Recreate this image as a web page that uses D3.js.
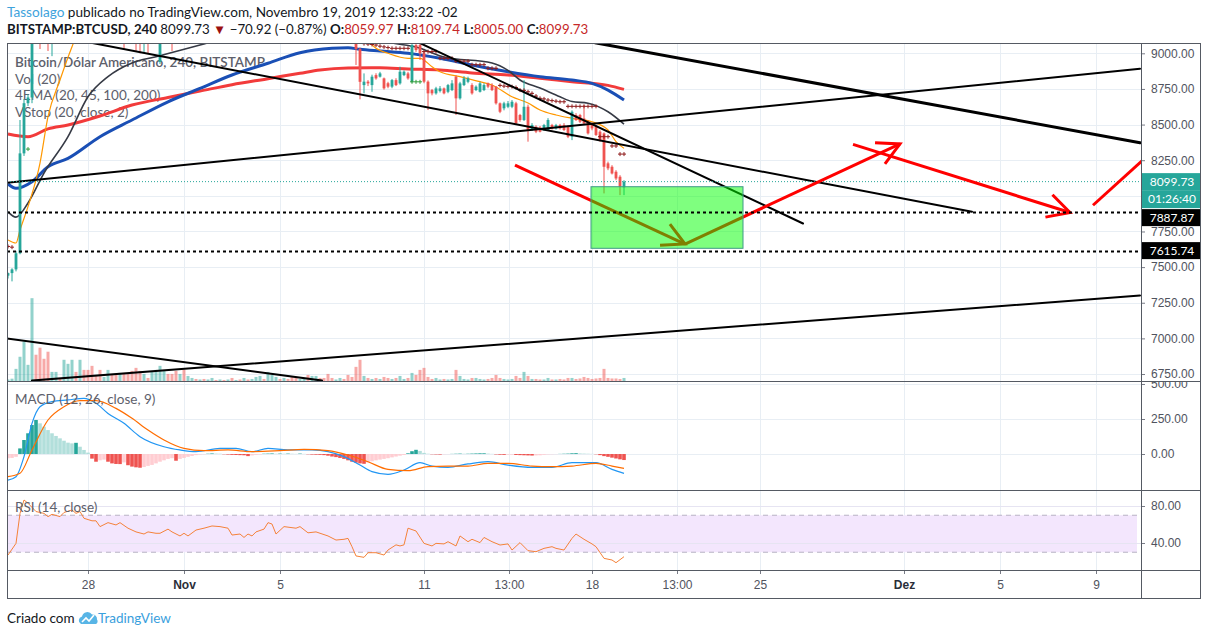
<!DOCTYPE html>
<html>
<head>
<meta charset="utf-8">
<script src="https://cdn.jsdelivr.net/npm/d3@7/dist/d3.min.js"></script>
<style>
  body { margin: 0; background: #fff; }
  svg { font-family: Lato, 'Liberation Sans', sans-serif; }
</style>
</head>
<body>
<svg id="chart" width="1209" height="635"></svg>
<script>
// ---- values ----
// 4h bars (times in the chart's -02 clock), first bar Oct 24 16:00
const firstBar = Date.UTC(2019, 9, 24, 16);

// [open, high, low, close]
const candles = [
  [7440,7462,7420,7458],[7458,7492,7400,7484],[7484,7612,7470,7597],[7597,8532,7590,8298],
  [8298,8680,8280,8650],[8650,8712,8630,8690],[8690,10350,8650,9880],[9880,10100,9500,9620],
  [9620,9700,9030,9260],[9260,9420,9100,9180],[9180,9300,9016,9100],[9100,9350,8980,9310],
  [9310,9520,9260,9460],[9460,9500,9330,9380],[9380,9620,9320,9560],[9560,9760,9500,9700],
  [9700,9900,9640,9840],[9840,9880,9650,9720],[9720,9940,9660,9860],[9860,9900,9580,9620],
  [9620,9680,9420,9460],[9460,9500,9250,9300],[9300,9360,9220,9260],[9260,9300,9150,9200],
  [9200,9300,9160,9280],[9280,9380,9240,9350],[9350,9380,9280,9300],[9300,9330,9220,9250],
  [9250,9340,9200,9300],[9300,9320,9030,9200],[9200,9260,9120,9150],[9150,9200,9080,9120],
  [9120,9160,9016,9100],[9100,9140,9000,9080],[9080,9200,9010,9180],[9180,9200,9000,9150],
  [9150,9230,9120,9200],[9200,9260,9150,9230],[8940,9320,8925,9280],[9280,9350,9230,9310],
  [9310,9330,9230,9260],[9260,9280,9016,9180],[9180,9220,9120,9150],[9150,9230,9130,9200],
  [9200,9220,9130,9160],[9160,9210,9140,9190],[9190,9260,9170,9240],[9240,9270,9180,9200],
  [9200,9250,9170,9230],[9230,9240,9150,9170],[9170,9220,9140,9200],[9200,9290,9180,9270],
  [9270,9300,9220,9240],[9240,9300,9220,9280],[9280,9290,9220,9250],[9250,9300,9230,9280],
  [9280,9290,9200,9220],[9220,9270,9200,9250],[9250,9270,9210,9230],[9230,9320,9220,9300],
  [9300,9330,9260,9280],[9280,9310,9250,9290],[9290,9380,9270,9360],[9360,9450,9340,9430],
  [9430,9460,9380,9400],[9400,9520,9380,9500],[9500,9560,9470,9540],[9540,9600,9500,9570],
  [9570,9590,9500,9520],[9520,9580,9500,9560],[9560,9570,9450,9470],[9470,9490,9350,9380],
  [9380,9400,9280,9300],[9300,9340,9260,9320],[9320,9400,9300,9380],[9380,9390,9270,9290],
  [9290,9380,9270,9360],[9360,9440,9340,9420],[9420,9430,9350,9370],[9370,9380,9300,9320],
  [9320,9330,9200,9230],[9230,9260,9180,9200],[9200,9240,9170,9220],[9220,9300,9200,9280],
  [9280,9290,9220,9240],[9240,9260,9150,9180],[9180,9210,9100,9160],[9160,9175,8918,9030],
  [9030,9040,8677,8800],[8777,8859,8719,8801],[8801,8812,8770,8789],[8777,8850,8730,8836],
  [8847,8860,8815,8824],[8836,8870,8830,8859],[8824,8830,8745,8754],[8790,8800,8755,8766],
  [8766,8820,8755,8812],[8812,8825,8770,8777],[8789,8906,8780,8871],[8847,8880,8840,8871],
  [8859,8870,8815,8824],[8801,9120,8795,9058],[9058,9080,9010,9023],[9058,9070,8953,9000],
  [9000,9010,8790,8801],[8801,8810,8602,8719],[8742,8750,8705,8719],[8719,8765,8710,8754],
  [8735,8770,8725,8754],[8754,8760,8712,8719],[8730,8785,8720,8777],[8742,8812,8735,8789],
  [8836,8845,8567,8684],[8684,8800,8675,8789],[8777,8840,8770,8824],[8800,8836,8790,8824],
  [8777,8790,8710,8719],[8742,8775,8735,8766],[8730,8800,8725,8789],[8742,8790,8735,8777],
  [8789,8795,8755,8766],[8777,8790,8735,8742],[8766,8770,8640,8649],[8649,8655,8580,8590],
  [8614,8660,8600,8649],[8625,8665,8615,8649],[8625,8672,8615,8660],[8649,8660,8500,8508],
  [8567,8575,8520,8532],[8532,8812,8525,8625],[8625,8640,8380,8462],[8462,8510,8455,8497],
  [8485,8495,8440,8450],[8480,8490,8445,8450],[8462,8505,8455,8497],[8462,8545,8455,8532],
  [8497,8505,8465,8473],[8473,8505,8465,8497],[8497,8505,8465,8473],[8497,8510,8455,8462],
  [8485,8495,8405,8415],[8415,8600,8391,8590],[8567,8580,8525,8532],[8567,8575,8510,8520],
  [8543,8637,8500,8508],[8520,8530,8430,8438],[8508,8515,8460,8473],[8485,8495,8420,8427],
  [8450,8460,8380,8391],[8438,8445,8017,8204],[8228,8240,8180,8193],[8204,8215,8150,8157],
  [8169,8180,8110,8122],[8134,8145,8005,8064],[8059.97,8109.74,8005,8099.73]
];

const volumes = [
  150,230,1200,2400,3900,1600,8200,2600,3300,2200,2900,900,900,200,2100,1700,2100,900,2100,1100,
  1100,1500,600,1100,400,1100,700,700,800,800,700,1000,1300,1000,700,300,1000,1100,1500,1000,
  700,700,1000,700,1100,500,300,200,150,200,150,300,100,150,100,150,300,100,150,300,
  150,200,400,500,200,900,600,400,200,300,200,400,400,200,300,600,500,500,300,300,
  700,300,150,300,200,600,400,1400,2100,500,300,200,300,200,400,300,200,300,500,200,
  300,800,600,1100,1300,400,200,300,150,200,150,200,1100,500,200,150,300,300,200,150,
  200,300,600,300,200,150,200,500,300,900,500,200,200,150,150,300,150,150,200,150,
  300,300,200,250,400,300,200,250,300,1200,300,250,250,200,300
];

// [bar, price]
const ema20 = [[0,7690],[2,7669],[3,7760],[5,7924],[8,8230],[10,8555],[13,8813],[16,9046],[20,9300],
  [30,9380],[45,9250],[60,9300],[75,9330],[85,9230],[89,9120],[92,9035],[95,9000],[100,8965],[103,8965],
  [106,8906],[108,8871],[113,8836],[118,8801],[121,8778],[126,8695],[130,8651],[133,8602],[137,8567],
  [141,8544],[146,8520],[150,8462],[152,8380],[154,8333]];
const ema45 = [[0,7888],[2,7851],[5,7950],[9,8160],[15,8415],[20,8695],[25,8836],[31,8932],[37,8976],
  [48,9058],[55,9110],[65,9160],[75,9190],[85,9150],[92,9100],[96,9072],[102,9044],[109,8974],[121,8932],
  [125,8880],[128,8813],[133,8756],[138,8695],[141,8662],[145,8650],[150,8590],[154,8503]];
const ema100 = [[0,8083],[2,8053],[6,8099],[10,8204],[15,8263],[23,8415],[31,8532],[40,8660],[48,8754],
  [56,8848],[65,8930],[73,9004],[81,9035],[85,9039],[88,9028],[93,9016],[100,9000],[108,8965],[116,8918],
  [125,8871],[133,8836],[141,8813],[146,8789],[150,8742],[154,8672]];
const ema200 = [[0,8434],[5,8415],[10,8470],[15,8497],[23,8560],[31,8637],[40,8690],[48,8735],[56,8780],
  [65,8822],[73,8860],[78,8883],[85,8897],[93,8899],[100,8890],[108,8883],[116,8862],[125,8848],
  [133,8825],[141,8801],[150,8775],[154,8747]];

// volatility stop crosses [bar, price]
const vstopDown = [[0,7645],[1,7640],[89,9068],[90,9065],[91,9062],[92,9058],[93,9050],[94,9045],
  [95,9040],[96,9035],[97,9035],[98,9035],[99,9035],[100,9035],[104,9012],[105,9012],[106,9012],
  [107,9012],[108,8965],[109,8965],[110,8965],[111,8965],[112,8945],[113,8945],[114,8945],[115,8945],
  [116,8920],[117,8920],[118,8920],[119,8920],[120,8895],[121,8895],[122,8895],[123,8775],[124,8770],
  [125,8768],[126,8766],[127,8760],[128,8742],[129,8740],[130,8730],[131,8719],[132,8700],[133,8684],
  [134,8680],[135,8672],[136,8668],[137,8664],[138,8660],[139,8660],[140,8628],[141,8628],[142,8628],
  [143,8628],[144,8628],[145,8628],[146,8628],[147,8628],[148,8415],[149,8415],[150,8415],[151,8350],
  [152,8350],[153,8293],[154,8293]];
const vstopUp = [[5,8328],[101,8800],[102,8800],[103,8800]];

// MACD (12, 26, close, 9): [bar, value]
const macdLine = [[0,-186],[2,-162],[4,-19],[6,219],[8,338],[11,374],[15,386],[19,398],[22,362],[25,290],
  [29,219],[33,124],[39,52],[43,29],[47,17],[53,40],[57,40],[61,17],[65,40],[70,29],[76,29],[80,17],
  [84,-19],[88,-79],[91,-126],[95,-145],[99,-114],[103,-62],[106,-86],[110,-95],[115,-71],[120,-55],
  [125,-79],[131,-95],[136,-95],[141,-62],[147,-62],[151,-110],[154,-138]];
const signalLine = [[0,-162],[3,-138],[6,29],[10,243],[14,338],[18,381],[22,381],[27,326],[31,255],
  [35,171],[39,100],[44,40],[49,24],[55,29],[61,17],[68,24],[74,33],[80,24],[85,-7],[90,-55],[95,-110],
  [100,-119],[105,-90],[110,-86],[115,-86],[120,-67],[125,-67],[131,-86],[136,-90],[141,-86],[147,-67],
  [151,-86],[154,-102]];
// histogram, one value per bar
const macdHist = [
  -30,-28,-20,40,100,148,207,243,219,195,171,148,129,112,95,81,76,80,52,29,
  10,-33,-55,-45,-40,-55,-67,-71,-72,-60,-80,-90,-95,-98,-93,-85,-78,-67,-55,-45,
  -35,-30,-48,-35,-28,-20,-14,-8,-4,-2,2,4,3,2,-2,-4,-6,-7,-8,-9,
  -15,-10,-6,-3,2,3,4,2,3,2,3,2,1,3,1,-2,-4,-5,-6,-8,
  -12,-18,-22,-28,-35,-45,-55,-62,-67,-70,-60,-52,-45,-40,-35,-30,-24,-18,-12,-7,
  5,20,30,22,8,2,-2,-3,-4,-2,-1,1,2,3,2,2,3,4,5,5,
  3,1,-3,-5,-6,-5,-5,-7,-8,-9,-10,-11,-10,-9,-6,-3,-2,-1,1,2,
  3,5,6,4,3,2,1,-2,-8,-15,-20,-26,-32,-38,-43
];

// RSI (14, close): [bar, value]
const rsiLine = [[0,27],[2,39.6],[3,72],[4,86.5],[5,83],[7,74],[9,72],[10,68.5],[11,71],[13,68.5],
  [14,73],[16,75.7],[17,72],[18,74],[19,66.7],[21,64],[22,64],[23,57.7],[25,62],[27,59.5],[28,62],
  [30,56],[32,52],[34,49.7],[35,52],[37,50.5],[38,50.5],[40,55],[41,52],[43,47.6],[44,50.5],[45,47.6],
  [47,54],[49,56],[51,58.4],[53,57.7],[55,56],[56,48.6],[58,49.7],[59,46],[60,49.7],[61,47.6],[62,52],
  [64,55],[65,62],[66,60.5],[67,49.7],[69,57.7],[72,56],[73,57.7],[75,51],[77,52],[80,47.6],[82,43.2],
  [84,44],[85,45],[86,36],[87,26],[89,24.5],[90,29.5],[92,29.5],[94,27],[95,32.4],[97,38],[98,36.8],
  [99,38],[100,56],[102,53],[104,39.6],[106,36.8],[107,39.6],[109,39],[110,41.4],[112,36.8],[113,47.6],
  [115,41.4],[116,44],[118,40.4],[119,46],[121,41.4],[123,37.8],[125,39],[126,32.4],[128,40.4],
  [130,31.7],[132,30.6],[134,34.2],[136,36],[137,34.2],[139,32.4],[141,45],[142,49.7],[144,44],
  [146,39],[147,36],[149,23.4],[151,21.6],[152,18.7],[154,25.2]];

const priceTicks = [6750, 7000, 7250, 7500, 7750, 8000, 8250, 8500, 8750, 9000];
const macdTicks = [0, 250, 500];
const rsiTicks = [40, 80];
const rsiBand = [30, 70];
const timeTicks = ['2019-10-28T00:00','2019-11-01T00:00','2019-11-05T00:00','2019-11-11T00:00',
  '2019-11-14T13:00','2019-11-18T00:00','2019-11-21T13:00','2019-11-25T00:00','2019-12-01T00:00',
  '2019-12-05T00:00','2019-12-09T00:00'];
const timeLabels = ['28','Nov','5','11','13:00','18','13:00','25','Dez','5','9'];

// drawings: [time1, price1, time2, price2]
const trendLines = [
  ['2019-10-27T13:00', 9093, '2019-12-03T20:00', 7887.87],
  ['2019-11-10T05:00', 9121, '2019-11-26T19:00', 7806],
  ['2019-11-18T03:00', 9074, '2019-12-10T20:00', 8373],
  ['2019-10-24T00:00', 8081, '2019-12-10T20:00', 8892],
  ['2019-10-25T16:00', 6704, '2019-12-10T20:00', 7301],
  ['2019-10-24T00:00', 7014, '2019-11-06T18:00', 6704]
];
const levels = [7887.87, 7615.74];
const zone = ['2019-11-17T23:00', 8064, '2019-11-24T07:00', 7632];
const arrows = [
  ['2019-11-14T19:00', 8216, '2019-11-21T21:00', 7662],
  ['2019-11-21T21:00', 7662, '2019-11-30T20:00', 8364],
  ['2019-11-28T21:00', 8361, '2019-12-07T22:00', 7883],
  ['2019-12-08T21:00', 7934, '2019-12-11T12:00', 8335]
];
const arrowHeads = [true, true, true, false];
const lastPrice = 8099.73;
const countdown = '01:26:40';

// ---- layout ----
const L = 7, R = 1141, FR = 1201, TOP = 43, MAIN_B = 381, MACD_B = 490, RSI_B = 570, AX_B = 598;
const parseT = d3.utcParse('%Y-%m-%dT%H:%M');
const barTime = i => new Date(firstBar + i * 4 * 3600e3);
const UP = '#26a69a', DOWN = '#ef5350', GRID = '#e8eef4', FRAME = '#555a63', AXTXT = '#50535e';

const svg = d3.select('#chart');
const defs = svg.append('defs');
function clip(id, x0, y0, x1, y1) {
  defs.append('clipPath').attr('id', id).append('rect')
    .attr('x', x0).attr('y', y0).attr('width', x1 - x0).attr('height', y1 - y0);
  return 'url(#' + id + ')';
}

const x = d3.scaleUtc()
  .domain([parseT('2019-10-24T15:00'), parseT('2019-12-10T21:00')])
  .range([L, R]);
const y = d3.scaleLinear().domain([6701, 9072.3]).range([MAIN_B, TOP]);
const yVol = d3.scaleLinear().domain([0, 10000]).range([MAIN_B, MAIN_B - 101]);
const yMacd = d3.scaleLinear().domain([-257, 521.4]).range([MACD_B, MAIN_B]);
const yRsi = d3.scaleLinear().domain([10.8, 97.3]).range([RSI_B, MACD_B]);
const xb = i => x(barTime(i));

// ---- header ----
svg.append('text').attr('x', 7).attr('y', 17).attr('font-size', 13.6).attr('fill', '#131722')
  .call(t => {
    t.append('tspan').attr('fill', '#3ea3dc').text('Tassolago');
    t.append('tspan').text(' publicado no TradingView.com, Novembro 19, 2019 12:33:22 -02');
  });
const head2 = svg.append('text').attr('x', 7).attr('y', 34).attr('font-size', 13.3).attr('fill', '#131722');
[['BITSTAMP:BTCUSD, 240 ', 'bold', '#131722'], ['8099.73 ', 'normal', '#131722'],
 ['\u25BC ', 'normal', '#9b1010'], ['\u221270.92 (\u22120.87%) ', 'normal', '#131722'],
 ['O:', 'bold', '#131722'], ['8059.97 ', 'normal', '#c62828'],
 ['H:', 'bold', '#131722'], ['8109.74 ', 'normal', '#c62828'],
 ['L:', 'bold', '#131722'], ['8005.00 ', 'normal', '#c62828'],
 ['C:', 'bold', '#131722'], ['8099.73', 'normal', '#c62828']]
  .forEach(([s, w, c]) => head2.append('tspan').attr('font-weight', w).attr('fill', c).text(s));

// ---- grids ----
const grid = svg.append('g').attr('stroke', GRID).attr('stroke-width', 1);
timeTicks.forEach(s => {
  const gx = Math.round(x(parseT(s))) + 0.5;
  grid.append('line').attr('x1', gx).attr('x2', gx).attr('y1', TOP).attr('y2', RSI_B);
});
priceTicks.forEach(p => grid.append('line').attr('x1', L).attr('x2', R)
  .attr('y1', Math.round(y(p)) + 0.5).attr('y2', Math.round(y(p)) + 0.5));
macdTicks.forEach(v => grid.append('line').attr('x1', L).attr('x2', R)
  .attr('y1', Math.round(yMacd(v)) + 0.5).attr('y2', Math.round(yMacd(v)) + 0.5));

// ---- main pane ----
const main = svg.append('g').attr('clip-path', clip('cMain', L, TOP, R, MAIN_B));

const legend = main.append('g').attr('fill', '#5d606b').attr('font-size', 13.5);
['Bitcoin/D\u00f3lar Americano, 240, BITSTAMP', 'Vol (20)', '4EMA (20, 45, 100, 200)', 'VStop (20, close, 2)']
  .forEach((s, i) => legend.append('text').attr('x', 15).attr('y', 67 + i * 16.7)
    .attr('font-weight', i === 0 ? 600 : 400).text(s));

// volume
main.append('g').selectAll('rect').data(volumes).join('rect')
  .attr('x', (d, i) => xb(i) - 1.5).attr('width', 3)
  .attr('y', d => yVol(d)).attr('height', d => MAIN_B - yVol(d))
  .attr('fill', (d, i) => candles[i][3] >= candles[i][0] ? 'rgba(38,166,154,0.5)' : 'rgba(239,83,80,0.5)');

// EMAs
const line = d3.line().x(d => xb(d[0])).y(d => y(d[1])).curve(d3.curveMonotoneX);
[[ema200, '#f23b3b', 3], [ema100, '#1a4fb5', 3], [ema45, '#363a45', 1.6], [ema20, '#ff9800', 1.2]]
  .forEach(([s, c, w]) => main.append('path').attr('d', line(s)).attr('fill', 'none')
    .attr('stroke', c).attr('stroke-width', w));

// candles
const cg = main.append('g');
candles.forEach((d, i) => {
  const [o, h, l, c] = d, col = c >= o ? UP : DOWN, cx = xb(i);
  cg.append('line').attr('x1', cx).attr('x2', cx).attr('y1', y(h)).attr('y2', y(l))
    .attr('stroke', col).attr('stroke-width', 1);
  cg.append('rect').attr('x', cx - 1.4).attr('width', 2.8)
    .attr('y', y(Math.max(o, c))).attr('height', Math.max(1, Math.abs(y(o) - y(c))))
    .attr('fill', col);
});

// VStop crosses
[[vstopDown, '#8e1b1b'], [vstopUp, '#2e9d3a']].forEach(([s, c]) => {
  main.append('path').attr('stroke', c).attr('stroke-width', 1).attr('fill', 'none')
    .attr('d', s.map(d => `M${xb(d[0]) - 2},${y(d[1])}h4M${xb(d[0])},${y(d[1]) - 2}v4`).join(''));
});

// drawings
const tlWidths = [2, 2, 3, 2, 2, 2];
trendLines.forEach((d, i) => main.append('line')
  .attr('x1', x(parseT(d[0]))).attr('y1', y(d[1])).attr('x2', x(parseT(d[2]))).attr('y2', y(d[3]))
  .attr('stroke', '#000').attr('stroke-width', tlWidths[i]).attr('stroke-linecap', 'round'));

main.append('line').attr('x1', L).attr('x2', R).attr('y1', y(lastPrice)).attr('y2', y(lastPrice))
  .attr('stroke', UP).attr('stroke-width', 1).attr('stroke-dasharray', '1,2');

arrows.forEach((d, i) => {
  const x1 = x(parseT(d[0])), y1 = y(d[1]), x2 = x(parseT(d[2])), y2 = y(d[3]);
  main.append('line').attr('x1', x1).attr('y1', y1).attr('x2', x2).attr('y2', y2)
    .attr('stroke', '#ff0000').attr('stroke-width', 3);
  if (arrowHeads[i]) {
    const a = Math.atan2(y1 - y2, x1 - x2), len = 25, sp = 28 * Math.PI / 180;
    main.append('path').attr('fill', 'none').attr('stroke', '#ff0000').attr('stroke-width', 3)
      .attr('d', `M${x2 + len * Math.cos(a - sp)},${y2 + len * Math.sin(a - sp)}L${x2},${y2}L${x2 + len * Math.cos(a + sp)},${y2 + len * Math.sin(a + sp)}`);
  }
});

main.append('rect')
  .attr('x', x(parseT(zone[0]))).attr('y', y(zone[1]))
  .attr('width', x(parseT(zone[2])) - x(parseT(zone[0]))).attr('height', y(zone[3]) - y(zone[1]))
  .attr('fill', 'rgba(0,255,0,0.5)').attr('stroke', '#3f9a86').attr('stroke-width', 1);

levels.forEach(p => main.append('line').attr('x1', L).attr('x2', R)
  .attr('y1', Math.round(y(p)) + 0.5).attr('y2', Math.round(y(p)) + 0.5)
  .attr('stroke', '#000').attr('stroke-width', 2).attr('stroke-dasharray', '3,3'));

// ---- MACD pane ----
const macdG = svg.append('g').attr('clip-path', clip('cMacd', L, MAIN_B, R, MACD_B));
macdG.append('g').selectAll('rect').data(macdHist).join('rect')
  .attr('x', (d, i) => xb(i) - 1.8).attr('width', 3.6)
  .attr('y', d => Math.min(yMacd(d), yMacd(0))).attr('height', d => Math.abs(yMacd(d) - yMacd(0)))
  .attr('fill', (d, i) => {
    const p = i ? macdHist[i - 1] : d;
    return d >= 0 ? (d >= p ? '#26a69a' : '#b2dfdb') : (d < p ? '#ef5350' : '#ffcdd2');
  });
const lineM = d3.line().x(d => xb(d[0])).y(d => yMacd(d[1])).curve(d3.curveMonotoneX);
macdG.append('path').attr('d', lineM(macdLine)).attr('fill', 'none').attr('stroke', '#2196f3').attr('stroke-width', 1.2);
macdG.append('path').attr('d', lineM(signalLine)).attr('fill', 'none').attr('stroke', '#ff6d00').attr('stroke-width', 1.2);
macdG.append('text').attr('x', 15).attr('y', 404).attr('font-size', 13.5).attr('fill', '#5d606b')
  .text('MACD (12, 26, close, 9)');

// ---- RSI pane ----
const rsiG = svg.append('g').attr('clip-path', clip('cRsi', L, MACD_B, R, RSI_B));
rsiG.append('rect').attr('x', L).attr('width', R - L - 4)
  .attr('y', yRsi(rsiBand[1])).attr('height', yRsi(rsiBand[0]) - yRsi(rsiBand[1]))
  .attr('fill', '#f3e6fd');
rsiTicks.forEach(v => rsiG.append('line').attr('x1', L).attr('x2', R)
  .attr('y1', Math.round(yRsi(v)) + 0.5).attr('y2', Math.round(yRsi(v)) + 0.5)
  .attr('stroke', '#e6e4f2'));
rsiBand.forEach(v => rsiG.append('line').attr('x1', L).attr('x2', R - 4)
  .attr('y1', yRsi(v)).attr('y2', yRsi(v))
  .attr('stroke', '#b8b2c4').attr('stroke-dasharray', '5,4'));
rsiG.append('path')
  .attr('d', d3.line().x(d => xb(d[0])).y(d => yRsi(d[1]))(rsiLine))
  .attr('fill', 'none').attr('stroke', '#f5823a').attr('stroke-width', 1);
rsiG.append('text').attr('x', 15).attr('y', 512).attr('font-size', 13.5).attr('fill', '#5d606b')
  .text('RSI (14, close)');

// ---- price labels on the axis (stacked so they do not overlap) ----
const boxes = [
  { p: lastPrice, text: d3.format('.2f')(lastPrice), fill: UP },
  { p: null, text: countdown, fill: UP },
  { p: levels[0], text: d3.format('.2f')(levels[0]), fill: '#000' },
  { p: levels[1], text: d3.format('.2f')(levels[1]), fill: '#000' }
];
let prevBottom = -1;
boxes.forEach(b => {
  b.h = b.p === null ? 18 : 17;
  b.top = b.p === null ? prevBottom : y(b.p) - b.h / 2;
  if (b.top < prevBottom) b.top = prevBottom + 1;
  prevBottom = b.top + b.h;
});
// tick labels hidden under a box are not drawn
const hidden = p => boxes.some(b => y(p) > b.top && y(p) < b.top + b.h);

// ---- axes ----
function styleAxis(g) {
  g.select('.domain').remove();
  g.selectAll('.tick line').attr('stroke', '#787b86');
  g.selectAll('.tick text').attr('fill', AXTXT).attr('font-size', 12);
}
svg.append('g').attr('transform', `translate(${R},0)`)
  .call(d3.axisRight(y).tickValues(priceTicks.filter(p => !hidden(p)))
    .tickSize(4).tickPadding(6).tickFormat(d3.format('.2f')))
  .call(styleAxis);
svg.append('g').attr('clip-path', clip('cMacdAx', R, MAIN_B + 1, 1209, MACD_B))
  .append('g').attr('transform', `translate(${R},0)`)
  .call(d3.axisRight(yMacd).tickValues(macdTicks).tickSize(4).tickPadding(6).tickFormat(d3.format('.2f')))
  .call(styleAxis);
svg.append('g').attr('transform', `translate(${R},0)`)
  .call(d3.axisRight(yRsi).tickValues(rsiTicks).tickSize(4).tickPadding(6).tickFormat(d3.format('.2f')))
  .call(styleAxis);
svg.append('g').attr('transform', `translate(0,${RSI_B})`)
  .call(d3.axisBottom(x).tickValues(timeTicks.map(parseT)).tickSize(4).tickPadding(6)
    .tickFormat((d, i) => timeLabels[i]))
  .call(styleAxis)
  .call(g => g.selectAll('.tick text')
    .attr('font-weight', (d, i) => /^[A-Za-z]/.test(timeLabels[i]) ? 'bold' : 'normal')
    .attr('fill', (d, i) => /^[A-Za-z]/.test(timeLabels[i]) ? '#2a2e39' : AXTXT));

boxes.forEach(b => {
  svg.append('rect').attr('x', R + 1).attr('y', b.top).attr('width', FR - R - 1).attr('height', b.h).attr('fill', b.fill);
  svg.append('text').attr('x', (R + FR) / 2 + 1).attr('y', b.top + b.h / 2 + 4.3)
    .attr('text-anchor', 'middle').attr('font-size', 12).attr('fill', '#fff').text(b.text);
});

// ---- frame ----
const fr = svg.append('g').attr('stroke', FRAME).attr('stroke-width', 1).attr('fill', 'none');
fr.append('rect').attr('x', L + 0.5).attr('y', TOP + 0.5).attr('width', FR - L - 1).attr('height', AX_B - TOP);
[MAIN_B, MACD_B, RSI_B].forEach(v => fr.append('line').attr('x1', L).attr('x2', FR)
  .attr('y1', v + 0.5).attr('y2', v + 0.5));
fr.append('line').attr('x1', R + 0.5).attr('x2', R + 0.5).attr('y1', TOP).attr('y2', AX_B);

// ---- footer ----
svg.append('text').attr('x', 7).attr('y', 623).attr('font-size', 13.5).attr('fill', '#131722').text('Criado com');
const logo = svg.append('g').attr('transform', 'translate(79,611)');
logo.append('path').attr('fill', '#58b5e6')
  .attr('d', 'M2,13 a4,4 0 0 1 1,-7.5 a5.5,5.5 0 0 1 10,-2 a4.5,4.5 0 0 1 5,5 a3,3 0 0 1 -1,4.5 z');
logo.append('path').attr('fill', 'none').attr('stroke', '#fff').attr('stroke-width', 1.6)
  .attr('d', 'M3,11 L7,7 L10,10 L15,4');
svg.append('text').attr('x', 98).attr('y', 623).attr('font-size', 13.5).attr('fill', '#3aa0dd').text('TradingView');
</script>
</body>
</html>
